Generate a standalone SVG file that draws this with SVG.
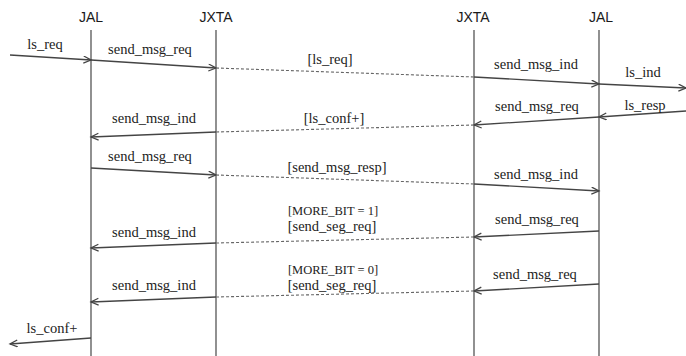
<svg xmlns="http://www.w3.org/2000/svg" width="686" height="356" viewBox="0 0 686 356">
<style>
.hdr{font-family:"Liberation Sans",Arial,sans-serif;font-size:14px;fill:#1a1a1a;text-anchor:middle}
.life{stroke:#555;stroke-width:1.3;fill:none}
.msg{stroke:#444;stroke-width:1.3;fill:none;marker-end:url(#ah)}
.dash{stroke:#666;stroke-width:1.1;fill:none;stroke-dasharray:3 2}
.lbl{font-family:"Liberation Serif","Times New Roman",serif;font-size:14.5px;fill:#222;text-anchor:middle}
.sm{font-size:12.5px}
</style>
<defs>
<marker id="ah" markerUnits="userSpaceOnUse" markerWidth="10" markerHeight="10" refX="8" refY="4" orient="auto">
<path d="M0.5,0.5 L8,4 L0.5,7.5" fill="none" stroke="#444" stroke-width="1.3"/>
</marker>
</defs>
<rect width="686" height="356" fill="#fff"/>
<g id="jal1"><text class="hdr" x="91" y="22">JAL</text><line class="life" x1="91" y1="30" x2="91" y2="356"/></g>
<g id="jxta1"><text class="hdr" x="216" y="22">JXTA</text><line class="life" x1="216" y1="30" x2="216" y2="356"/></g>
<g id="jxta2"><text class="hdr" x="473" y="22">JXTA</text><line class="life" x1="474" y1="30" x2="474" y2="356"/></g>
<g id="jal2"><text class="hdr" x="601" y="22">JAL</text><line class="life" x1="599" y1="30" x2="599" y2="356"/></g>
<g id="connectors">
<line class="msg" x1="10" y1="55" x2="91" y2="60"/>
<line class="msg" x1="91" y1="60" x2="216" y2="68"/>
<line class="dash" x1="216" y1="68" x2="474" y2="77"/>
<line class="msg" x1="474" y1="77" x2="599" y2="84"/>
<line class="msg" x1="599" y1="84" x2="686" y2="88"/>
<line class="msg" x1="686" y1="111" x2="599" y2="117"/>
<line class="msg" x1="599" y1="117" x2="474" y2="125"/>
<line class="dash" x1="474" y1="125" x2="216" y2="132"/>
<line class="msg" x1="216" y1="132" x2="91" y2="137"/>
<line class="msg" x1="91" y1="168" x2="216" y2="175"/>
<line class="dash" x1="216" y1="175" x2="474" y2="184"/>
<line class="msg" x1="474" y1="184" x2="599" y2="191"/>
<line class="msg" x1="599" y1="231" x2="474" y2="237"/>
<line class="dash" x1="474" y1="237" x2="216" y2="243"/>
<line class="msg" x1="216" y1="243" x2="91" y2="248"/>
<line class="msg" x1="599" y1="284" x2="474" y2="291"/>
<line class="dash" x1="474" y1="291" x2="216" y2="297"/>
<line class="msg" x1="216" y1="297" x2="91" y2="302"/>
<line class="msg" x1="91" y1="338" x2="10" y2="344"/>
</g>
<g id="labels">
<text class="lbl" x="45" y="49">ls_req</text>
<text class="lbl" x="150" y="54">send_msg_req</text>
<text class="lbl" x="330" y="64">[ls_req]</text>
<text class="lbl" x="536" y="69">send_msg_ind</text>
<text class="lbl" x="643" y="77">ls_ind</text>
<text class="lbl" x="645" y="110">ls_resp</text>
<text class="lbl" x="537" y="111">send_msg_req</text>
<text class="lbl" x="334" y="123">[ls_conf+]</text>
<text class="lbl" x="154" y="123">send_msg_ind</text>
<text class="lbl" x="150" y="161">send_msg_req</text>
<text class="lbl" x="337" y="172">[send_msg_resp]</text>
<text class="lbl" x="536" y="179">send_msg_ind</text>
<text class="lbl" x="537" y="224">send_msg_req</text>
<text class="lbl sm" x="333" y="215">[MORE_BIT = 1]</text>
<text class="lbl" x="332" y="231">[send_seg_req]</text>
<text class="lbl" x="154" y="237">send_msg_ind</text>
<text class="lbl sm" x="333" y="274">[MORE_BIT = 0]</text>
<text class="lbl" x="332" y="290">[send_seg_req]</text>
<text class="lbl" x="535" y="279">send_msg_req</text>
<text class="lbl" x="154" y="290">send_msg_ind</text>
<text class="lbl" x="52" y="333">ls_conf+</text>
</g>
</svg>
